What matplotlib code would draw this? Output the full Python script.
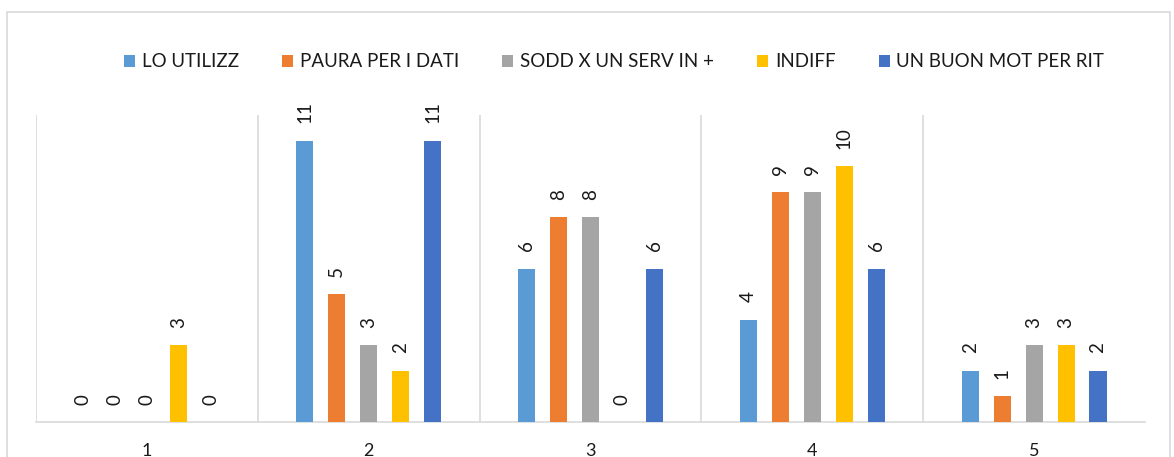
import matplotlib.pyplot as plt
import numpy as np
from matplotlib.patches import Rectangle

plt.rcParams['font.family'] = ['Lato', 'DejaVu Sans']

# data
categories = ['1', '2', '3', '4', '5']
series_names = ['LO UTILIZZ', 'PAURA PER I DATI', 'SODD X UN SERV IN +', 'INDIFF', 'UN BUON MOT PER RIT']
lo_utilizz = [0, 11, 6, 4, 2]
paura_dati = [0, 5, 8, 9, 1]
sodd_serv = [0, 3, 8, 9, 3]
indiff = [3, 2, 0, 10, 3]
buon_mot = [0, 11, 6, 6, 2]
colors = ['#5B9BD5', '#ED7D31', '#A5A5A5', '#FFC000', '#4472C4']

all_series = [lo_utilizz, paura_dati, sodd_serv, indiff, buon_mot]

fig = plt.figure(figsize=(11.74, 4.57), dpi=100)
ax = fig.add_axes([0.0307, 0.0766, 0.9446, 0.6714])

# outer chart frame (bottom is cut off in the reference)
fig.patches.append(Rectangle((0.006, -0.1), 0.991, 1.074, transform=fig.transFigure,
                             fill=False, edgecolor='#D9D9D9', linewidth=1.2))

x = np.arange(1, len(categories) + 1)
step = 0.144
width = 0.077
for i, (name, vals, c) in enumerate(zip(series_names, all_series, colors)):
    pos = x + (i - 2) * step
    bars = ax.bar(pos, vals, width, color=c, label=name, zorder=3)
    for b, v in zip(bars, vals):
        ax.annotate(str(v), (b.get_x() + b.get_width() / 2, v), xytext=(0, 12.5),
                    textcoords='offset points', rotation=90, ha='center', va='bottom',
                    fontsize=13.5, color='#1a1a1a')

ax.set_xlim(0.5, 5.5)
ax.set_ylim(0, 12)
ax.set_yticks([])
ax.set_xticks(x)
ax.set_xticklabels(categories, fontsize=13, color='#1a1a1a')
ax.tick_params(axis='x', length=0, pad=15)
for xv in [0.5, 1.5, 2.5, 3.5, 4.5]:
    ax.axvline(xv, color='#D9D9D9', linewidth=1.2, zorder=1)
for s in ['top', 'right', 'left']:
    ax.spines[s].set_visible(False)
ax.spines['bottom'].set_color('#D9D9D9')
ax.spines['bottom'].set_linewidth(1.2)

leg = fig.legend(loc='center', bbox_to_anchor=(0.523, 0.865), ncol=5, frameon=False,
                 fontsize=13.5, handlelength=0.6, handleheight=0.6, handletextpad=0.35,
                 columnspacing=2.3)
for t in leg.get_texts():
    t.set_color('#1a1a1a')

fig.savefig('out.png', dpi=100)
